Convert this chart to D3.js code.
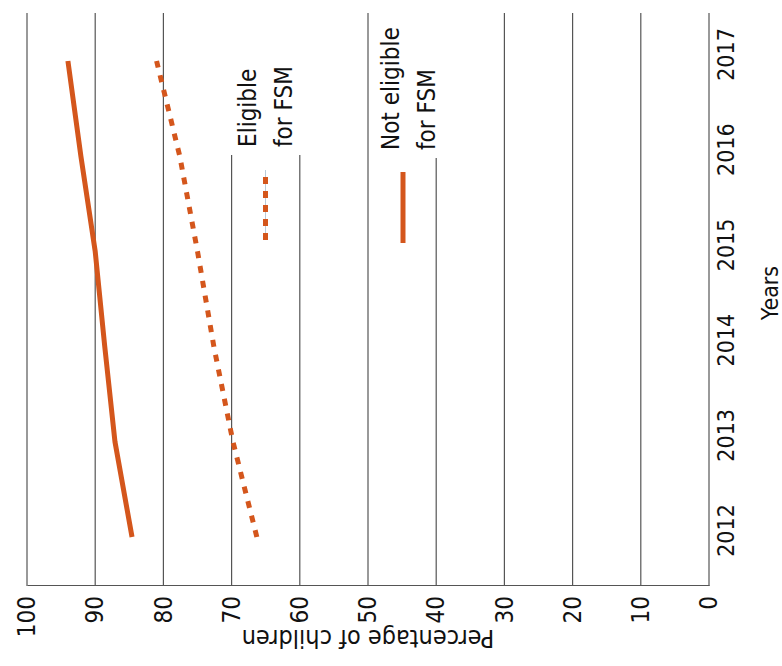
<!DOCTYPE html>
<html>
<head>
<meta charset="utf-8">
<script src="https://cdn.jsdelivr.net/npm/d3@7"></script>
<style>
  body { margin: 0; background: #fff; }
  text { font-family: "DejaVu Sans Condensed", "Liberation Sans Narrow", "Liberation Sans", sans-serif; fill: #111; }
</style>
</head>
<body>
<script>
var W = 782, H = 666;

// data
var years = [2012, 2013, 2014, 2015, 2016, 2017];
var eligible = [66.3, 69.8, 72.6, 75.0, 77.6, 81.0];
var notEligible = [84.6, 87.1, 88.6, 90.0, 92.1, 94.0];
var valueTicks = [0, 10, 20, 30, 40, 50, 60, 70, 80, 90, 100];
var seriesNames = [["Eligible", "for FSM"], ["Not eligible", "for FSM"]];

var orange = "#d4561c";

// the chart is drawn upright (666 wide, 782 tall) then turned a quarter left
var pLeft = 80, pRight = 653, pTop = 27, pBottom = 709;

var x = d3.scaleLinear().domain([2012, 2017]).range([129, 605]);
var y = d3.scaleLinear().domain([0, 100]).range([pBottom, pTop]);

var svg = d3.select("body").append("svg").attr("width", W).attr("height", H);
var g = svg.append("g").attr("transform", "translate(0," + H + ") rotate(-90)");

// grid
g.append("g").selectAll("line")
  .data(valueTicks)
  .enter()
  .append("line")
  .attr("x1", pLeft).attr("x2", pRight)
  .attr("y1", function(d) { return y(d); })
  .attr("y2", function(d) { return y(d); })
  .attr("stroke", "#555")
  .attr("stroke-width", 1.2);

// value axis
var yAxis = g.append("g")
  .attr("transform", "translate(" + pLeft + ",0)")
  .call(d3.axisLeft(y).tickValues(valueTicks).tickSize(0).tickSizeOuter(0).tickPadding(10));
yAxis.select(".domain").attr("stroke", "#555").attr("stroke-width", 1.2);
yAxis.selectAll("text").style("font-size", "24px").attr("fill", "#111");

// years axis
var xAxis = g.append("g")
  .attr("transform", "translate(0," + pBottom + ")")
  .call(d3.axisBottom(x).tickValues(years).tickFormat(d3.format("d")).tickSize(0).tickPadding(9));
xAxis.select(".domain").remove();
xAxis.selectAll("text").style("font-size", "23px").attr("dx", 6).attr("fill", "#111");

// titles
g.append("text")
  .attr("transform", "translate(" + (pLeft - 44) + "," + ((pTop + pBottom) / 2) + ") rotate(-90)")
  .attr("text-anchor", "middle")
  .style("font-size", "25px")
  .text("Percentage of children");

g.append("text")
  .attr("x", 373).attr("y", 778)
  .attr("text-anchor", "middle")
  .style("font-size", "23px")
  .text("Years");

// lines
var lineFn = d3.line()
  .x(function(d, i) { return x(years[i]); })
  .y(function(d) { return y(d); });

g.append("path")
  .attr("d", lineFn(notEligible))
  .attr("fill", "none")
  .attr("stroke", orange)
  .attr("stroke-width", 5);

g.append("path")
  .attr("d", lineFn(eligible))
  .attr("fill", "none")
  .attr("stroke", orange)
  .attr("stroke-width", 5)
  .attr("stroke-dasharray", "7,8");

// legend
var legendPos = [
  {v: 256, u: 519, cover: [229, 301], sw: 265.5},
  {v: 399, u: 516, cover: [371, 446], sw: 403}
];

seriesNames.forEach(function(name, i) {
  var p = legendPos[i];
  g.append("rect")
    .attr("x", p.u - 8).attr("y", p.cover[0])
    .attr("width", H - (p.u - 8)).attr("height", p.cover[1] - p.cover[0])
    .attr("fill", "#fff");
  var t = g.append("text").attr("x", p.u).attr("y", p.v).style("font-size", "24px");
  t.append("tspan").attr("x", p.u).text(name[0]);
  t.append("tspan").attr("x", p.u).attr("dy", 36).text(name[1]);
  if (i === 0) {
    g.append("line")
      .attr("x1", 426).attr("x2", 496).attr("y1", p.sw).attr("y2", p.sw)
      .attr("stroke", "#b9cbd8").attr("stroke-width", 1);
  }
  g.append("line")
    .attr("x1", i === 0 ? 426 : 423).attr("x2", i === 0 ? 496 : 494)
    .attr("y1", p.sw).attr("y2", p.sw)
    .attr("stroke", orange)
    .attr("stroke-width", 5)
    .attr("stroke-dasharray", i === 0 ? "7,7" : null);
});
</script>
</body>
</html>
